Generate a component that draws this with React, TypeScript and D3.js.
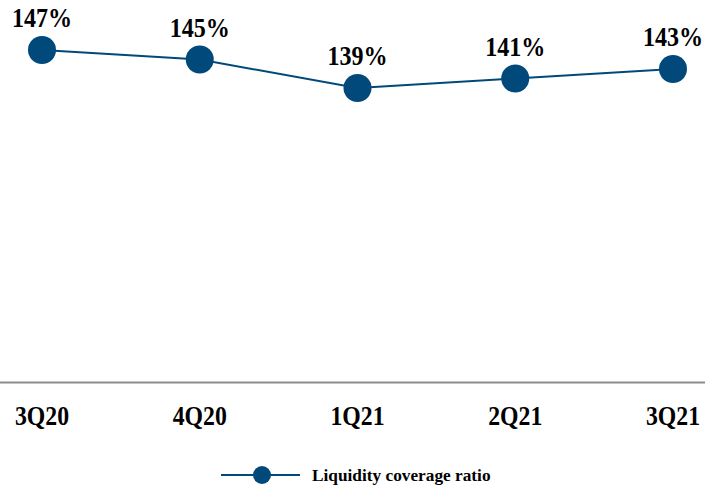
import React from "react";
import * as d3 from "d3";

const categories = ["3Q20", "4Q20", "1Q21", "2Q21", "3Q21"];
const values = [147, 145, 139, 141, 143];
const seriesName = "Liquidity coverage ratio";

const W = 705;
const H = 488;
const COLOR = "#00497a";
const FONT = "'Liberation Serif', 'Times New Roman', serif";

export default function App() {
  const x = d3.scalePoint<string>().domain(categories).range([42, 673]);
  const y = d3.scaleLinear().domain([77, 147]).range([382.5, 50]);
  const line = d3
    .line<number>()
    .x((_, i) => x(categories[i]) as number)
    .y((d) => y(d));

  return (
    <svg
      width={W}
      height={H}
      style={{ position: "absolute", left: 0, top: 0, background: "#fff" }}
      fontFamily={FONT}
    >
      <line x1={0} x2={W} y1={382.5} y2={382.5} stroke="#8c8c8c" strokeWidth={2} />
      <path d={line(values) ?? ""} fill="none" stroke={COLOR} strokeWidth={2} />
      {values.map((v, i) => (
        <g key={categories[i]}>
          <circle cx={x(categories[i])} cy={y(v)} r={14} fill={COLOR} />
          <text
            transform={`translate(${x(categories[i])},${y(v) - 23}) scale(0.86,1)`}
            textAnchor="middle"
            fontSize={28}
            fontWeight="bold"
            fill="#000"
          >
            {v}%
          </text>
        </g>
      ))}
      {categories.map((c) => (
        <text
          key={c}
          transform={`translate(${x(c)},425) scale(0.88,1)`}
          textAnchor="middle"
          fontSize={27}
          fontWeight="bold"
          fill="#000"
        >
          {c}
        </text>
      ))}
      <g>
        <line x1={221} x2={300} y1={475} y2={475} stroke={COLOR} strokeWidth={2} />
        <circle cx={262} cy={475} r={9} fill={COLOR} />
        <text x={312} y={481} fontSize={17.3} fontWeight="bold" fill="#000">
          {seriesName}
        </text>
      </g>
    </svg>
  );
}
